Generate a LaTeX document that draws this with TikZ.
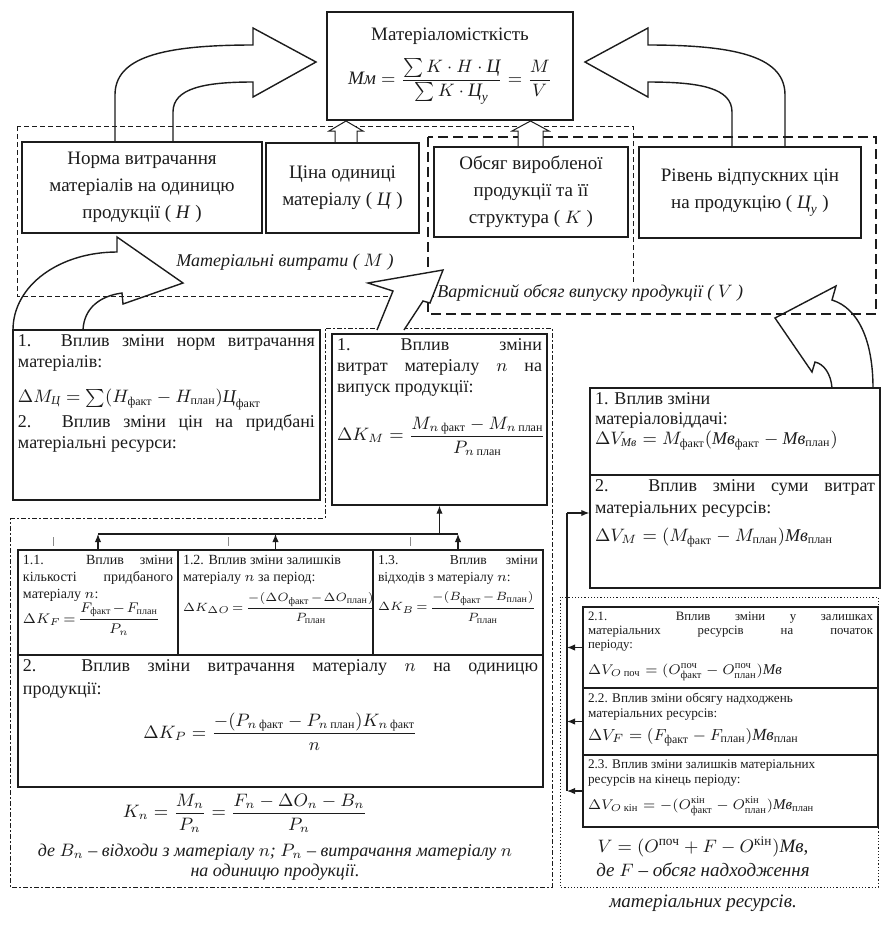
\documentclass[tikz,border=0pt]{standalone}
\usepackage{amsmath,amssymb}
\usepackage{fontspec}
\setmainfont{Liberation Serif}
\usetikzlibrary{arrows.meta,calc}
\definecolor{ScanInk}{HTML}{1C1C1C}
\definecolor{ScanFaint}{HTML}{8A8A8A}
\definecolor{ScanPaper}{HTML}{FFFFFF}

\newcommand{\cellbox}[3]{\begin{minipage}[c][#2][t]{#1}#3\end{minipage}}
\newcommand{\fct}{\text{факт}}
\newcommand{\pln}{\text{план}}
\newcommand{\Mv}{\textit{Мв}}
\newcommand{\tightmath}{\medmuskip=1.5mu\thickmuskip=2.5mu}

\tikzset{
  card/.style={draw=ScanInk, line width=0.7pt, inner sep=2.5pt, text=ScanInk},
  rowtext/.style={align=center, font=\fontsize{9.5}{13.5}\selectfont},
  tagline/.style={font=\fontsize{9}{11}\selectfont\itshape, text=ScanInk},
  matzone/.style={draw=ScanInk, line width=0.45pt, dash pattern=on 2.5pt off 1.5pt},
  valzone/.style={draw=ScanInk, line width=0.6pt, dash pattern=on 5pt off 2.5pt},
  chainzone/.style={draw=ScanInk, line width=0.5pt, dash pattern=on 2.5pt off 1.2pt on 0.6pt off 1.2pt},
  dotzone/.style={draw=ScanInk, line width=0.5pt, dash pattern=on 0.6pt off 1pt},
  hollow/.style={draw=ScanInk, line width=0.7pt, line join=miter},
  link/.style={draw=ScanInk, line width=0.6pt},
  linkhead/.style={-{Latex[length=4pt,width=3.2pt]}},
}

\begin{document}
\begin{tikzpicture}[x=0.5pt,y=-0.5pt]
  \useasboundingbox (0,0) rectangle (883,939);
  \fill[ScanPaper] (0,0) rectangle (883,939);

  % zones
  \draw[matzone] (17,126) rectangle (633,296);
  \draw[valzone] (428,137) rectangle (876,314);
  \draw[chainzone] (10,518) -- (325,518) -- (325,328) -- (552,328) -- (552,887) -- (10,887) -- cycle;
  \draw[dotzone] (560,597) rectangle (878,887);

  % small arrows into the top box
  \draw[hollow, fill=ScanPaper, line width=0.5pt] (335,143) -- (335,131) -- (329,131) -- (346,121) -- (363,131) -- (357,131) -- (357,143);
  \draw[hollow, fill=ScanPaper, line width=0.5pt] (518,147) -- (518,131) -- (512,131) -- (530.5,121) -- (549,131) -- (543,131) -- (543,147);

  % top part
  \node[card, minimum width=123pt, minimum height=54pt, align=center, font=\fontsize{9.5}{12}\selectfont] (matint) at (450,66)
    {Матеріаломісткість\\[6pt] $\displaystyle \textit{Мм}=\frac{\sum K\cdot H\cdot \textit{Ц}}{\sum K\cdot \textit{Ц}_{\textit{у}}}=\frac{M}{V}$};
  \node[card, rowtext, minimum width=120pt, minimum height=45.5pt] (norm) at (142,187.5)
    {Норма витрачання\\матеріалів на одиницю\\продукції ( \textit{Н} )};
  \node[card, rowtext, minimum width=76.5pt, minimum height=45pt] (price) at (342.5,188)
    {Ціна одиниці\\матеріалу ( \textit{Ц} )};
  \node[card, rowtext, minimum width=97pt, minimum height=45pt] (volume) at (531,192)
    {Обсяг виробленої\\продукції та її\\структура ( $K$ )};
  \node[card, rowtext, minimum width=111pt, minimum height=45.5pt] (level) at (750,192.5)
    {Рівень відпускних цін\\на продукцію ( $\textit{Ц}_{\textit{у}}$ )};

  \draw[hollow] (115,142) -- (115,95) .. controls (115,58) and (160,45) .. (253,45) -- (253,28) -- (316,62) -- (253,97) -- (253,82) .. controls (205,82) and (173,88) .. (173,112) -- (173,142);
  \draw[hollow] (785,147) -- (785,95) .. controls (785,58) and (740,45) .. (648,45) -- (648,28) -- (585,62) -- (648,97) -- (648,82) .. controls (700,82) and (732,88) .. (732,112) -- (732,147);

  \node[tagline] (matlbl) at (285,262) {Матеріальні витрати ( $M$ )};
  \node[tagline, anchor=west, fill=ScanPaper, inner sep=1.5pt] (vallbl) at (434,293) {Вартісний обсяг випуску продукції ( $V$ )};

  % big arrows of the lower part
  \draw[hollow] (13,330) .. controls (13,285) and (60,252) .. (117,252) -- (117,237) -- (183,283) -- (123,304) -- (122,293) .. controls (100,296) and (84,308) .. (83,330);
  \draw[hollow, fill=ScanPaper] (377,330) -- (393,291) -- (368,283) -- (443,270) -- (430,303) -- (423,301) -- (404,330);
  \draw[hollow] (873,388) .. controls (873,340) and (858,308) .. (832,300) -- (836,286) -- (775,318) -- (812,372) -- (815,362) .. controls (824,364) and (831,374) .. (832,388);

  % lower left part
  \node[card] (shiftnorm) at (166.5,415) {\cellbox{148.5pt}{80pt}{\fontsize{9}{10.5}\selectfont
    1. Вплив зміни норм витрачання\linebreak матеріалів:\par\vspace{7pt}
    \mbox{$\Delta M_{\textit{Ц}}=\sum(H_{\fct}-H_{\pln})\textit{Ц}_{\fct}$}\par\vspace{2pt}
    2. Вплив зміни цін на придбані\linebreak матеріальні ресурси:}};
  \node[card] (shiftuse) at (439.5,419.5) {\cellbox{102.5pt}{80.5pt}{\fontsize{9}{10.5}\selectfont
    1.\ Вплив зміни\linebreak витрат матеріалу $n$ на\linebreak випуск продукції:\par\vspace{9pt}
    \mbox{$\displaystyle\Delta K_{M}=\frac{M_{n\,\fct}-M_{n\,\pln}}{P_{n\,\pln}}$}}};

  \node[card] (qty) at (98,602.5) {\cellbox{75pt}{47.5pt}{\fontsize{7}{8.5}\selectfont
    1.1. Вплив зміни\linebreak кількості придбаного\linebreak матеріалу $n$:\par
    \mbox{$\tightmath\Delta K_{F}=\dfrac{F_{\fct}-F_{\pln}}{P_{n}}$}}};
  \node[card] (rest) at (275.5,602.5) {\cellbox{92.5pt}{47.5pt}{\fontsize{7}{8.5}\selectfont
    1.2. Вплив зміни залишків\\матеріалу $n$ за період:\par\vspace{3pt}
    {\fontsize{6}{7}\selectfont\mbox{$\tightmath\Delta K_{\Delta O}=\dfrac{-(\Delta O_{\fct}-\Delta O_{\pln})}{P_{\pln}}$}\par}}};
  \node[card] (waste) at (458,602.5) {\cellbox{80pt}{47.5pt}{\fontsize{6.8}{8.5}\selectfont
    1.3. Вплив зміни\linebreak відходів з матеріалу $n$:\par\vspace{3pt}
    {\fontsize{6}{7}\selectfont\mbox{$\tightmath\Delta K_{B}=\dfrac{-(B_{\fct}-B_{\pln})}{P_{\pln}}$}\par}}};
  \node[card] (usage) at (280.5,721) {\cellbox{257.5pt}{61pt}{\fontsize{9}{11.5}\selectfont
    2. Вплив зміни витрачання матеріалу $n$ на одиницю\linebreak продукції:\par\vspace{6pt}
    {\centering\mbox{$\displaystyle\Delta K_{P}=\frac{-(P_{n\,\fct}-P_{n\,\pln})K_{n\,\fct}}{n}$}\par}}};

  \node[text=ScanInk, font=\fontsize{9}{11}\selectfont] (kform) at (245,813)
    {$\displaystyle K_{n}=\frac{M_{n}}{P_{n}}=\frac{F_{n}-\Delta O_{n}-B_{n}}{P_{n}}$};
  \node[tagline, align=center, font=\fontsize{9}{10}\selectfont\itshape] (leftnote) at (275,862)
    {де $B_n$ – відходи з матеріалу $n$; $P_n$ – витрачання матеріалу $n$\\на одиницю продукції.};

  % lower right part
  \node[card] (mvid) at (735,431.5) {\cellbox{140pt}{38.5pt}{\fontsize{9}{10}\selectfont
    1. Вплив зміни\\матеріаловіддачі:\\\mbox{$\Delta V_{\Mv}=M_{\fct}(\Mv_{\fct}-\Mv_{\pln})$}}};
  \node[card] (msum) at (735,531.5) {\cellbox{140pt}{51.5pt}{\fontsize{9}{11}\selectfont
    2. Вплив зміни суми витрат\linebreak матеріальних ресурсів:\par\vspace{3pt}
    \mbox{$\Delta V_{M}=(M_{\fct}-M_{\pln})\Mv_{\pln}$}}};
  \node[card] (startrest) at (730.5,647.5) {\cellbox{142.5pt}{35.5pt}{\fontsize{6.4}{7}\selectfont
    2.1. Вплив зміни у залишках\linebreak матеріальних ресурсів на початок\linebreak періоду:\par\vspace{4.5pt}
    {\fontsize{7.5}{8.5}\selectfont\mbox{$\Delta V_{O\,\text{поч}}=(O^{\text{поч}}_{\fct}-O^{\text{поч}}_{\pln})\Mv$}\par}}};
  \node[card] (inflow) at (730.5,721.5) {\cellbox{142.5pt}{28.5pt}{\fontsize{6.6}{7.4}\selectfont
    2.2. Вплив зміни обсягу надходжень\\матеріальних ресурсів:\par\vspace{1.5pt}
    {\fontsize{8.5}{10}\selectfont\mbox{$\Delta V_{F}=(F_{\fct}-F_{\pln})\Mv_{\pln}$}\par}}};
  \node[card] (endrest) at (730.5,791) {\cellbox{142.5pt}{31pt}{\fontsize{6.6}{7.4}\selectfont
    2.3. Вплив зміни залишків матеріальних\\ресурсів на кінець періоду:\par\vspace{4.5pt}
    {\fontsize{7.5}{8.5}\selectfont\mbox{$\Delta V_{O\,\text{кін}}=-(O^{\text{кін}}_{\fct}-O^{\text{кін}}_{\pln})\Mv_{\pln}$}\par}}};

  \node[text=ScanInk, font=\fontsize{9.5}{11}\selectfont] (vform) at (703,847)
    {$V=(O^{\text{поч}}+F-O^{\text{кін}})\Mv$,};
  \node[tagline, align=center, font=\fontsize{9.5}{15.5}\selectfont\itshape] (rightnote) at (703,887.5)
    {де $F$ – обсяг надходження\\матеріальних ресурсів.};

  % connectors
  \coordinate (busW) at (98,534);
  \coordinate (busE) at (458,534);
  \draw[link] (busW) -- (busE);
  \foreach \b in {qty,rest,waste}
    \draw[link,linkhead] (\b.north) -- (\b.north |- busW);
  \draw[link,linkhead] (shiftuse.south |- busW) -- (shiftuse.south);
  \foreach \t in {53,228,410}
    \draw[ScanFaint, line width=0.5pt] (\t,537) -- (\t,546);

  \coordinate (trunk) at (567,513);
  \draw[link] (trunk) -- (trunk |- endrest.west);
  \draw[link,linkhead] (trunk) -- (trunk -| msum.west);
  \foreach \b in {startrest,inflow,endrest}
    \draw[link,linkhead] (\b.west) -- (\b.west -| trunk);
\end{tikzpicture}
\end{document}
